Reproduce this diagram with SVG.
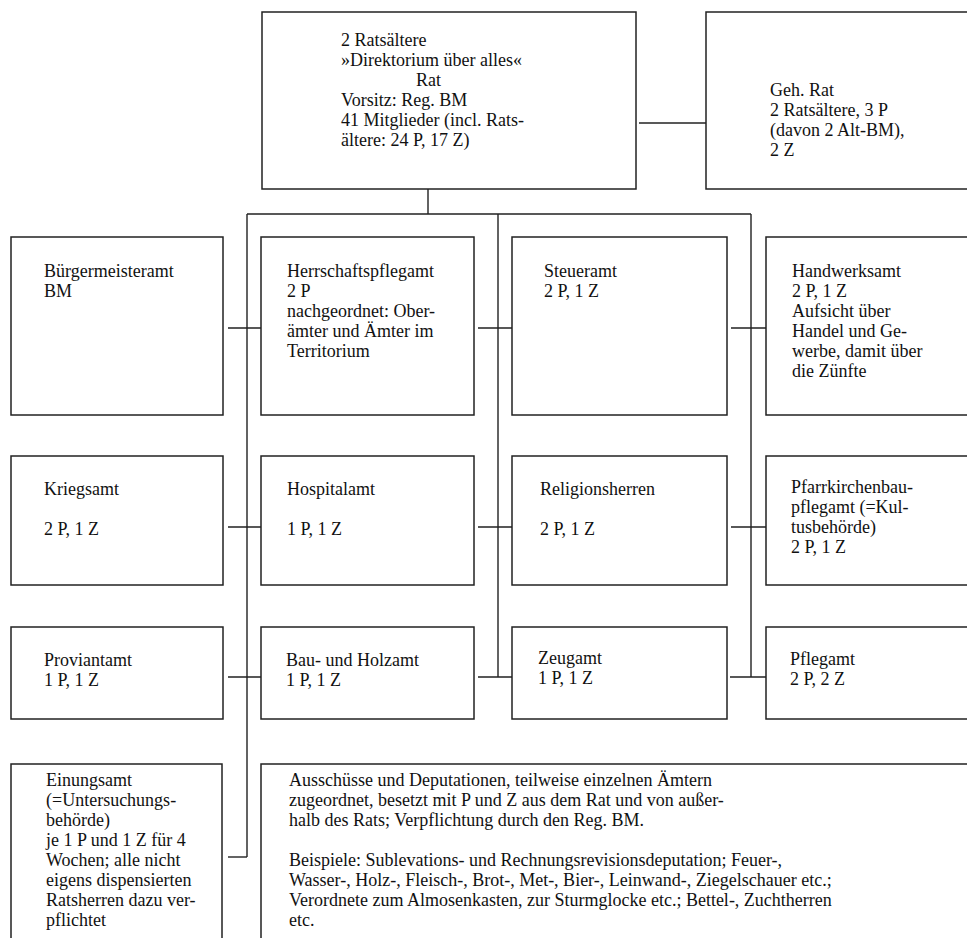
<svg xmlns="http://www.w3.org/2000/svg" width="967" height="938" viewBox="0 0 967 938">
<style>
.box{fill:#fff;stroke:#222;stroke-width:1.5}
.ln{fill:none;stroke:#222;stroke-width:1.4}
text{font-family:"Liberation Serif","Times New Roman",serif;font-size:18px;fill:#111}
</style>
<rect width="967" height="938" fill="#fff"/>
<g id="connectors">
<path class="ln" d="M428,189V214M247,214H751M247,214V857M498,214V677M751,214V677"/>
<path class="ln" d="M639,123H710"/>
<path class="ln" d="M228,328H267M478,328H518M731,328H770"/>
<path class="ln" d="M228,527H267M478,527H518M731,527H770"/>
<path class="ln" d="M228,677H267M478,677H517M730,677H770"/>
<path class="ln" d="M228,857H247"/>
</g>
<g id="rat">
<rect class="box" x="262" y="12" width="374" height="177"/>
<text x="341" y="46">2 Ratsältere</text>
<text x="341" y="66">»Direktorium über alles«</text>
<text x="416" y="86">Rat</text>
<text x="341" y="106">Vorsitz: Reg. BM</text>
<text x="341" y="126">41 Mitglieder (incl. Rats-</text>
<text x="341" y="146">ältere: 24 P, 17 Z)</text>
</g>
<g id="geh-rat">
<rect class="box" x="706" y="12" width="275" height="177"/>
<text x="770" y="96">Geh. Rat</text>
<text x="770" y="116">2 Ratsältere, 3 P</text>
<text x="770" y="136">(davon 2 Alt-BM),</text>
<text x="770" y="156">2 Z</text>
</g>
<g id="buergermeisteramt">
<rect class="box" x="11" y="237" width="212" height="178"/>
<text x="44" y="277">Bürgermeisteramt</text>
<text x="44" y="297">BM</text>
</g>
<g id="herrschaftspflegamt">
<rect class="box" x="261" y="237" width="213" height="178"/>
<text x="287" y="277">Herrschaftspflegamt</text>
<text x="287" y="297">2 P</text>
<text x="287" y="317">nachgeordnet: Ober-</text>
<text x="287" y="337">ämter und Ämter im</text>
<text x="287" y="357">Territorium</text>
</g>
<g id="steueramt">
<rect class="box" x="512" y="237" width="215" height="178"/>
<text x="544" y="277">Steueramt</text>
<text x="544" y="297">2 P, 1 Z</text>
</g>
<g id="handwerksamt">
<rect class="box" x="766" y="237" width="215" height="178"/>
<text x="792" y="277">Handwerksamt</text>
<text x="792" y="297">2 P, 1 Z</text>
<text x="792" y="317">Aufsicht über</text>
<text x="792" y="337">Handel und Ge-</text>
<text x="792" y="357">werbe, damit über</text>
<text x="792" y="377">die Zünfte</text>
</g>
<g id="kriegsamt">
<rect class="box" x="11" y="456" width="212" height="129"/>
<text x="44" y="495">Kriegsamt</text>
<text x="44" y="535">2 P, 1 Z</text>
</g>
<g id="hospitalamt">
<rect class="box" x="261" y="456" width="213" height="129"/>
<text x="287" y="495">Hospitalamt</text>
<text x="287" y="535">1 P, 1 Z</text>
</g>
<g id="religionsherren">
<rect class="box" x="512" y="456" width="215" height="129"/>
<text x="540" y="495">Religionsherren</text>
<text x="540" y="535">2 P, 1 Z</text>
</g>
<g id="pfarrkirchenbaupflegamt">
<rect class="box" x="766" y="456" width="215" height="129"/>
<text x="791" y="493">Pfarrkirchenbau-</text>
<text x="791" y="513">pflegamt (=Kul-</text>
<text x="791" y="533">tusbehörde)</text>
<text x="791" y="553">2 P, 1 Z</text>
</g>
<g id="proviantamt">
<rect class="box" x="11" y="627" width="212" height="92"/>
<text x="44" y="666">Proviantamt</text>
<text x="44" y="686">1 P, 1 Z</text>
</g>
<g id="bau-und-holzamt">
<rect class="box" x="261" y="627" width="213" height="92"/>
<text x="286" y="666">Bau- und Holzamt</text>
<text x="286" y="686">1 P, 1 Z</text>
</g>
<g id="zeugamt">
<rect class="box" x="512" y="627" width="215" height="92"/>
<text x="538" y="664">Zeugamt</text>
<text x="538" y="684">1 P, 1 Z</text>
</g>
<g id="pflegamt">
<rect class="box" x="766" y="627" width="215" height="92"/>
<text x="790" y="665">Pflegamt</text>
<text x="790" y="685">2 P, 2 Z</text>
</g>
<g id="einungsamt">
<rect class="box" x="11" y="764" width="211" height="190"/>
<text x="46" y="786">Einungsamt</text>
<text x="46" y="806">(=Untersuchungs-</text>
<text x="46" y="826">behörde)</text>
<text x="46" y="846">je 1 P und 1 Z für 4</text>
<text x="46" y="866">Wochen; alle nicht</text>
<text x="46" y="886">eigens dispensierten</text>
<text x="46" y="906">Ratsherren dazu ver-</text>
<text x="46" y="926">pflichtet</text>
</g>
<g id="ausschuesse">
<rect class="box" x="261" y="764" width="720" height="190"/>
<text x="289" y="786">Ausschüsse und Deputationen, teilweise einzelnen Ämtern</text>
<text x="289" y="806">zugeordnet, besetzt mit P und Z aus dem Rat und von außer-</text>
<text x="289" y="826">halb des Rats; Verpflichtung durch den Reg. BM.</text>
<text x="289" y="866">Beispiele: Sublevations- und Rechnungsrevisionsdeputation; Feuer-,</text>
<text x="289" y="886">Wasser-, Holz-, Fleisch-, Brot-, Met-, Bier-, Leinwand-, Ziegelschauer etc.;</text>
<text x="289" y="906">Verordnete zum Almosenkasten, zur Sturmglocke etc.; Bettel-, Zuchtherren</text>
<text x="289" y="926">etc.</text>
</g>
</svg>
